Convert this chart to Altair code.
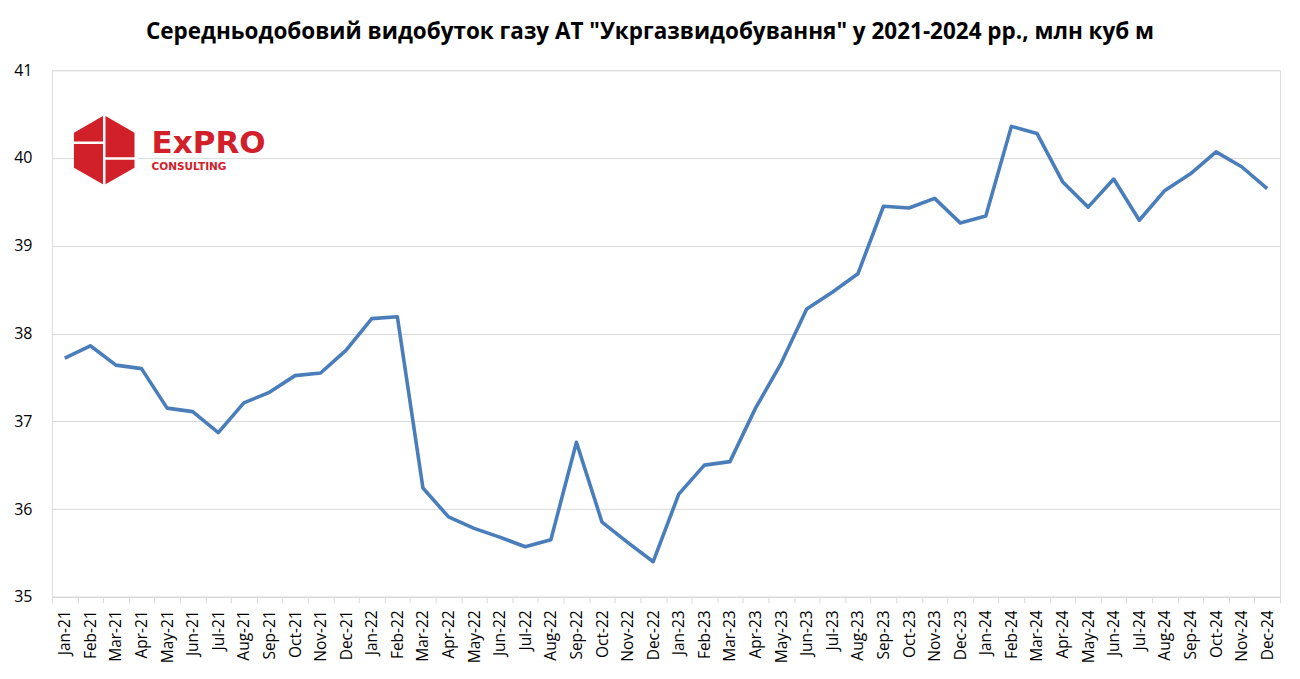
import altair as alt
import pandas as pd

months = ["Jan-21", "Feb-21", "Mar-21", "Apr-21", "May-21", "Jun-21", "Jul-21", "Aug-21", "Sep-21", "Oct-21", "Nov-21", "Dec-21",
          "Jan-22", "Feb-22", "Mar-22", "Apr-22", "May-22", "Jun-22", "Jul-22", "Aug-22", "Sep-22", "Oct-22", "Nov-22", "Dec-22",
          "Jan-23", "Feb-23", "Mar-23", "Apr-23", "May-23", "Jun-23", "Jul-23", "Aug-23", "Sep-23", "Oct-23", "Nov-23", "Dec-23",
          "Jan-24", "Feb-24", "Mar-24", "Apr-24", "May-24", "Jun-24", "Jul-24", "Aug-24", "Sep-24", "Oct-24", "Nov-24", "Dec-24"]

production = [37.72, 37.86, 37.64, 37.60, 37.15, 37.11, 36.87, 37.21, 37.33, 37.52, 37.55, 37.81,
              38.17, 38.19, 36.24, 35.91, 35.78, 35.68, 35.57, 35.65, 36.76, 35.85, 35.62, 35.40,
              36.17, 36.50, 36.54, 37.15, 37.66, 38.28, 38.47, 38.68, 39.45, 39.43, 39.54, 39.26,
              39.34, 40.36, 40.28, 39.73, 39.44, 39.76, 39.29, 39.63, 39.82, 40.07, 39.90, 39.65]

y_ticks = [35, 36, 37, 38, 39, 40, 41]

title_text = 'Середньодобовий видобуток газу АТ "Укргазвидобування" у 2021-2024 рр., млн куб м'

df = pd.DataFrame({"month": months, "value": production})

RED = "#d2202b"
GRID = "#d9d9d9"
W, H = 1229, 527

x_enc = alt.X(
    "month:O",
    sort=months,
    bandPosition=0.5,
    scale=alt.Scale(type="band", paddingInner=0, paddingOuter=0),
    axis=alt.Axis(
        title=None,
        labelAngle=-90,
        labelFont="Open Sans",
        labelFontSize=15.5,
        labelColor="#000000",
        labelPadding=7,
        tickBand="extent",
        tickColor=GRID,
        tickSize=6,
        domainColor=GRID,
        domainWidth=1,
        grid=False,
    ),
)

y_enc = alt.Y(
    "value:Q",
    scale=alt.Scale(domain=[35, 41], nice=False, zero=False),
    axis=alt.Axis(
        title=None,
        values=y_ticks,
        labelFont="Open Sans",
        labelFontSize=16,
        labelColor="#000000",
        labelPadding=20,
        ticks=False,
        domain=False,
        grid=True,
        gridColor=GRID,
        gridWidth=1,
    ),
)

line = alt.Chart(df).mark_line(color="#4a7ebb", strokeWidth=3.6, strokeJoin="round").encode(
    x=x_enc, y=y_enc
)

# Logo (decorative)
logo_df = pd.DataFrame({"a": [0]})
hex_path = "M0,-1 L0.866,-0.5 L0.866,0.5 L0,1 L-0.866,0.5 L-0.866,-0.5 Z"
hexagon = alt.Chart(logo_df).mark_point(
    shape=hex_path, filled=True, size=4900, color=RED, opacity=1, strokeWidth=0
).encode(x=alt.value(52.3), y=alt.value(80))

rule_v = alt.Chart(logo_df).mark_rule(color="white", strokeWidth=2.5).encode(
    x=alt.value(52.3), y=alt.value(44), y2=alt.value(116)
)
rule_l = alt.Chart(logo_df).mark_rule(color="white", strokeWidth=2.5).encode(
    x=alt.value(19), x2=alt.value(52.3), y=alt.value(72.7)
)
rule_r = alt.Chart(logo_df).mark_rule(color="white", strokeWidth=2.5).encode(
    x=alt.value(52.3), x2=alt.value(86), y=alt.value(88.3)
)

logo_big = alt.Chart(logo_df).mark_text(
    text="ExPRO", font="DejaVu Sans", fontSize=31, fontWeight="bold", color=RED,
    align="left", baseline="alphabetic"
).encode(x=alt.value(99.7), y=alt.value(83))

logo_small = alt.Chart(logo_df).mark_text(
    text="CONSULTING", font="DejaVu Sans", fontSize=10.5, fontWeight="bold", color=RED,
    align="left", baseline="alphabetic"
).encode(x=alt.value(99.7), y=alt.value(100))

chart = alt.layer(line, hexagon, rule_v, rule_l, rule_r, logo_big, logo_small).properties(
    width=W,
    height=H,
    padding={"left": 44, "top": 62, "right": 12, "bottom": 70},
    autosize=alt.AutoSizeParams(type="none"),
    title=alt.TitleParams(
        text=title_text,
        font="Open Sans",
        fontSize=22.5,
        fontWeight="bold",
        color="#000000",
        anchor="middle",
        dx=-16,
        offset=19,
    ),
).configure_view(stroke=None).configure(background="white")

chart.save("out.html", embed_options={"renderer": "svg", "actions": False})
